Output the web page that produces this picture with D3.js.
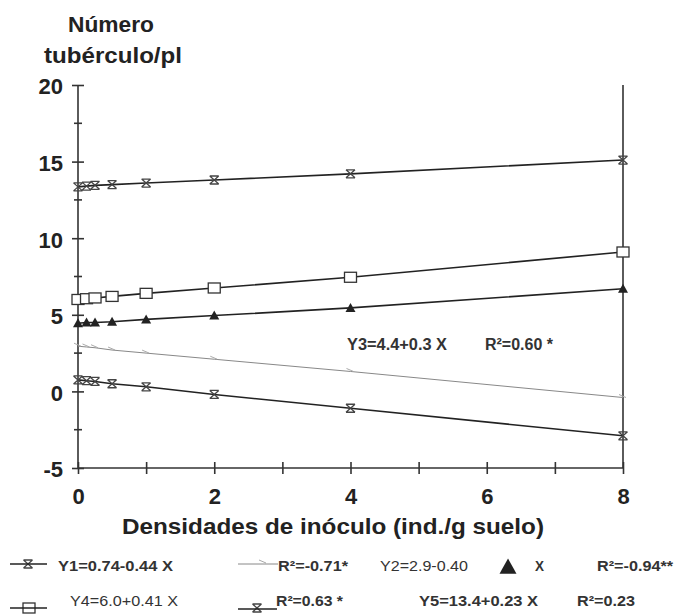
<!DOCTYPE html>
<html lang="es">
<head>
    <meta charset="UTF-8"/>
    <title>tubérculos</title>
    <script src="https://d3js.org/d3.v7.min.js"></script>
    <style>
        body { margin: 0; background: #fff; }
        .axis path, .axis line { fill: none; stroke: #333; stroke-width: 1.6; }
        .axis text { font: bold 22px "Liberation Sans", Arial, sans-serif; fill: #222; }
        .lab { font-family: "Liberation Sans", Arial, sans-serif; fill: #333; }
    </style>
</head>
<body></body>
<script type="text/javascript">
    // dosis de inóculo
    let dosis = [0, 0.125, 0.25, 0.5, 1, 2, 4, 8];

    // valores
    let y1 = [0.75, 0.7, 0.65, 0.5, 0.3, -0.2, -1.1, -2.9];
    let y2 = [2.95, 2.9, 2.85, 2.7, 2.5, 2.1, 1.3, -0.4];
    let y3 = [4.45, 4.5, 4.5, 4.55, 4.7, 4.95, 5.45, 6.7];
    let y4 = [6.0, 6.05, 6.1, 6.2, 6.4, 6.75, 7.45, 9.1];
    let y5 = [13.35, 13.4, 13.45, 13.5, 13.6, 13.8, 14.2, 15.1];

    let xTicks = [0, 2, 4, 6, 8];
    let yTicks = [-5, 0, 5, 10, 15, 20];

    let width = 674, height = 614;
    let mLeft = 78, mRight = 623, mTop = 85, mBottom = 468;

    let svg = d3.select("body").append("svg")
        .attr("width", width)
        .attr("height", height);

    let scaleX = d3.scaleLinear().domain([0, 8]).range([mLeft, mRight]);
    let scaleY = d3.scaleLinear().domain([-5, 20]).range([mBottom, mTop]);

    // eje Y
    let gy = svg.append("g")
        .attr("class", "axis")
        .attr("transform", "translate(" + mLeft + ",0)")
        .call(d3.axisLeft(scaleY).tickValues(yTicks).tickSize(6).tickPadding(9)
            .tickFormat(d => String(d)));
    gy.selectAll(".tick line").attr("x1", 6).attr("x2", -6);
    gy.select(".domain").attr("d", "M0," + mTop + "V" + mBottom);
    gy.selectAll(".tick text").attr("dy", "0.4em");

    // marcas menores del eje Y
    svg.append("g").selectAll("line")
        .data(d3.range(-2.5, 20, 5))
        .enter().append("line")
        .attr("x1", mLeft - 4).attr("x2", mLeft + 4)
        .attr("y1", d => scaleY(d)).attr("y2", d => scaleY(d))
        .style("stroke", "#333").style("stroke-width", 1.6);

    // eje X
    let gx = svg.append("g")
        .attr("class", "axis")
        .attr("transform", "translate(0," + mBottom + ")")
        .call(d3.axisBottom(scaleX).tickValues(d3.range(0, 9, 1)).tickSize(6).tickPadding(19)
            .tickFormat(d => xTicks.includes(d) ? String(d) : ""));
    gx.selectAll(".tick line").attr("y1", -6).attr("y2", 6);
    gx.select(".domain").attr("d", "M" + mLeft + ",0H" + mRight);
    gx.selectAll(".tick text").attr("dy", "0.5em");

    // línea vertical derecha
    svg.append("line")
        .attr("x1", mRight).attr("x2", mRight)
        .attr("y1", mTop).attr("y2", mBottom)
        .style("stroke", "#333").style("stroke-width", 1.6);

    // títulos
    function title(x, y, t, size, len) {
        svg.append("text").attr("class", "lab")
            .attr("x", x).attr("y", y)
            .style("font-weight", "bold").style("font-size", size + "px").style("fill", "#222")
            .attr("textLength", len).attr("lengthAdjust", "spacingAndGlyphs")
            .text(t);
    }
    title(68, 32, "Número", 22, 86);
    title(44, 63, "tubérculo/pl", 22, 138);
    title(122, 534, "Densidades de inóculo (ind./g suelo)", 22, 422);

    // series
    let series = [
        {v: y5, mark: "cross", color: "#222", w: 1.6},
        {v: y4, mark: "square", color: "#222", w: 1.6},
        {v: y3, mark: "tri", color: "#222", w: 1.6},
        {v: y2, mark: "tick", color: "#888", w: 1},
        {v: y1, mark: "cross", color: "#222", w: 1.6}
    ];

    let line = d3.line()
        .x(d => scaleX(d[0]))
        .y(d => scaleY(d[1]));

    function marker(g, type, cx, cy, k) {
        k = k || 1;
        if (type === "square") {
            g.append("rect").attr("x", cx - 6).attr("y", cy - 5)
                .attr("width", 12).attr("height", 10)
                .style("fill", "#fff").style("stroke", "#333").style("stroke-width", 1.3);
        } else if (type === "tri") {
            g.append("path")
                .attr("d", "M" + cx + "," + (cy - 5 * k) + "L" + (cx + 5 * k) + "," + (cy + 4 * k) +
                    "L" + (cx - 5 * k) + "," + (cy + 4 * k) + "Z")
                .style("fill", "#222");
        } else if (type === "cross") {
            g.append("path")
                .attr("d", "M" + (cx - 4.5) + "," + (cy - 4) + "H" + (cx + 4.5) +
                    "M" + (cx - 4.5) + "," + (cy + 4) + "H" + (cx + 4.5) +
                    "M" + (cx - 4.5) + "," + (cy - 4) + "L" + (cx + 4.5) + "," + (cy + 4) +
                    "M" + (cx + 4.5) + "," + (cy - 4) + "L" + (cx - 4.5) + "," + (cy + 4))
                .style("fill", "none").style("stroke", "#444").style("stroke-width", 1.3);
        } else if (type === "tick") {
            g.append("path")
                .attr("d", "M" + (cx - 4) + "," + (cy - 3) + "L" + (cx + 3) + "," + (cy))
                .style("fill", "none").style("stroke", "#aaa").style("stroke-width", 1);
        }
    }

    series.forEach(s => {
        let pts = dosis.map((x, i) => [x, s.v[i]]);
        svg.append("path")
            .attr("d", line(pts))
            .style("fill", "none")
            .style("stroke", s.color)
            .style("stroke-width", s.w);
        let g = svg.append("g");
        pts.forEach(p => marker(g, s.mark, scaleX(p[0]), scaleY(p[1])));
    });

    // textos con ancho fijo
    function label(x, y, t, size, len, bold) {
        svg.append("text").attr("class", "lab")
            .attr("x", x).attr("y", y)
            .style("font-size", size + "px")
            .style("font-weight", bold ? "bold" : "normal")
            .attr("textLength", len).attr("lengthAdjust", "spacingAndGlyphs")
            .text(t);
    }

    // ecuación Y3 dentro del gráfico
    label(347, 350, "Y3=4.4+0.3 X", 16, 100, true);
    label(485, 350, "R²=0.60 *", 16, 68, true);

    // leyenda
    function legLine(x1, x2, y, color, w) {
        svg.append("line").attr("x1", x1).attr("x2", x2).attr("y1", y).attr("y2", y)
            .style("stroke", color).style("stroke-width", w);
    }
    let lg = svg.append("g");

    legLine(10, 47, 564, "#222", 1.6);
    marker(lg, "cross", 28, 564);
    label(58, 571, "Y1=0.74-0.44 X", 15, 115, true);

    legLine(238, 278, 564, "#888", 1);
    marker(lg, "tick", 263, 563);
    label(278, 571, "R²=-0.71*", 15, 70, true);
    label(380, 571, "Y2=2.9-0.40", 15, 88, false);
    marker(lg, "tri", 508, 567, 1.7);
    label(535, 571, "X", 15, 9, true);
    label(597, 571, "R²=-0.94**", 15, 76, true);

    legLine(10, 47, 608, "#222", 1.6);
    marker(lg, "square", 29, 608);
    label(70, 606, "Y4=6.0+0.41 X", 15, 108, false);

    legLine(238, 277, 609, "#222", 1.6);
    marker(lg, "cross", 257, 608);
    label(276, 606, "R²=0.63 *", 15, 67, true);
    label(419, 606, "Y5=13.4+0.23 X", 15, 119, true);
    label(577, 606, "R²=0.23", 15, 58, true);
</script>
</html>
